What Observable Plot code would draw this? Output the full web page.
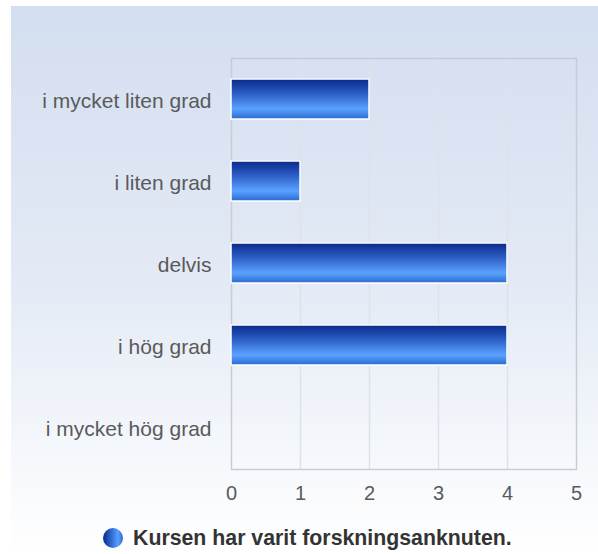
<!DOCTYPE html>
<html>
<head>
<meta charset="utf-8">
<script src="https://cdn.jsdelivr.net/npm/d3@7"></script>
<script src="https://cdn.jsdelivr.net/npm/@observablehq/plot@0.6"></script>
<style>
  html, body { margin: 0; padding: 0; background: #ffffff; }
  body { width: 598px; height: 554px; position: relative; overflow: hidden; font-family: "Liberation Sans", Arial, sans-serif; }
  #panel { position: absolute; left: 11px; top: 6px; width: 587px; height: 548px;
    background: linear-gradient(to bottom, #d3def0 0%, #e3eaf5 50%, #ffffff 100%); }
  #chart { position: absolute; left: 0; top: 0; }
  #legend { position: absolute; left: 103px; top: 526px; height: 24px; display: flex; align-items: center;
    font-weight: bold; font-size: 21.3px; color: #333333; white-space: nowrap; }
  #legend .dot { width: 20px; height: 20px; border-radius: 50%; margin-right: 10px;
    background: linear-gradient(to right, #0a2a8a 0%, #3d7fe6 55%, #5aa0ff 75%, #2a6ad0 100%); }
</style>
</head>
<body>
<div id="panel"></div>
<div id="chart"></div>
<div id="legend"><span class="dot"></span><span>Kursen har varit forskningsanknuten.</span></div>
<script>
const categories = ["i mycket liten grad", "i liten grad", "delvis", "i hög grad", "i mycket hög grad"];
const values = [2, 1, 4, 4, 0];
const xTicks = [0, 1, 2, 3, 4, 5];
const gridTicks = [1, 2, 3, 4];

const data = categories.map((c, i) => ({category: c, value: values[i]}));

const chart = Plot.plot({
  width: 598,
  height: 510,
  marginLeft: 231,
  marginRight: 22,
  marginTop: 58,
  marginBottom: 41,
  style: {background: "transparent", fontFamily: "'Liberation Sans', Arial, sans-serif", fontSize: "21px", color: "#5a5a5a", overflow: "visible"},
  x: {domain: [0, 5], label: null},
  y: {domain: categories, paddingInner: 0.51, paddingOuter: 0.255, label: null},
  marks: [
    Plot.ruleX(gridTicks, {stroke: "#dde2ea", strokeWidth: 1.5}),
    Plot.frame({stroke: "#c8ccd3", strokeWidth: 1.5}),
    Plot.barX(data, {filter: d => d.value > 0, y: "category", x: "value", dx: 1, dy: -1, fill: "#a8b8d8", fillOpacity: 0.6}),
    Plot.barX(data, {filter: d => d.value > 0, y: "category", x: "value", fill: "url(#barGrad)", stroke: "#ffffff", strokeWidth: 1.5}),
    Plot.axisX({ticks: xTicks, tickFormat: d3.format("d"), tickSize: 0, tickPadding: 16, fill: "#5a5a5a", fontSize: 20, label: null}),
    Plot.axisY({tickSize: 0, tickPadding: 20, dy: 2, fill: "#5a5a5a", fontSize: 21, label: null})
  ]
});

const ns = "http://www.w3.org/2000/svg";
const defs = document.createElementNS(ns, "defs");
defs.innerHTML = `<linearGradient id="barGrad" x1="0" y1="0" x2="0" y2="1">
  <stop offset="0%" stop-color="#0a2a8a"/>
  <stop offset="35%" stop-color="#2a5cc4"/>
  <stop offset="75%" stop-color="#5aa2ff"/>
  <stop offset="100%" stop-color="#2a6ad0"/>
</linearGradient>`;
chart.insertBefore(defs, chart.firstChild);
document.getElementById("chart").appendChild(chart);
</script>
</body>
</html>
